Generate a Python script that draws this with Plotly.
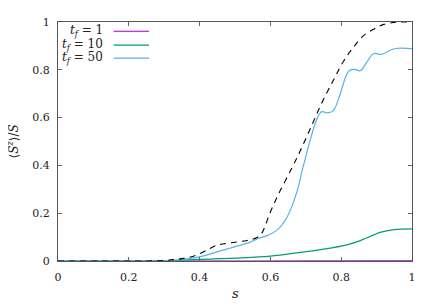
import plotly.graph_objects as go

# ---- data ----
s_ground = [0, 0.25, 0.30, 0.33, 0.355, 0.383, 0.42, 0.449, 0.487, 0.534, 0.562, 0.575, 0.586,
            0.60, 0.623, 0.661, 0.684, 0.713, 0.746, 0.779, 0.807, 0.835, 0.863, 0.892, 0.92,
            0.948, 0.97, 1.0]
v_ground = [0, 0, 0.002, 0.006, 0.011, 0.02, 0.045, 0.066, 0.076, 0.086, 0.098, 0.115, 0.15,
            0.205, 0.28, 0.39, 0.46, 0.555, 0.664, 0.759, 0.837, 0.895, 0.943, 0.97, 0.99,
            0.998, 1.0, 1.0]

s_tf1 = [0, 0.5, 1.0]
v_tf1 = [0, 0, 0.001]

s_tf10 = [0, 0.3, 0.4, 0.5, 0.6, 0.684, 0.76, 0.80, 0.84, 0.87, 0.91, 0.95, 1.0]
v_tf10 = [0, 0.001, 0.007, 0.012, 0.02, 0.036, 0.052, 0.062, 0.078, 0.095, 0.12, 0.131, 0.134]

s_tf50 = [0, 0.25, 0.308, 0.355, 0.402, 0.449, 0.496, 0.543, 0.567, 0.59, 0.618, 0.647, 0.675,
          0.69, 0.705, 0.72, 0.733, 0.745, 0.76, 0.777, 0.797, 0.812, 0.823, 0.838, 0.854,
          0.873, 0.892, 0.915, 0.939, 0.953, 1.0]
v_tf50 = [0, 0, 0.001, 0.007, 0.018, 0.038, 0.058, 0.079, 0.095, 0.106, 0.128, 0.183, 0.29,
          0.38, 0.465, 0.545, 0.6, 0.625, 0.62, 0.628, 0.698, 0.768, 0.797, 0.802, 0.796,
          0.834, 0.868, 0.865, 0.882, 0.889, 0.889]

tick_vals = [0, 0.2, 0.4, 0.6, 0.8, 1]
tick_text = ["0", "0.2", "0.4", "0.6", "0.8", "1"]

legend_labels = ["<i>t</i><sub><i>f</i></sub>&nbsp;= 1",
                 "<i>t</i><sub><i>f</i></sub>&nbsp;= 10",
                 "<i>t</i><sub><i>f</i></sub>&nbsp;= 50"]
colors = ["#9400d3", "#009e73", "#56b4e9"]

# ---- layout geometry (page has an 8px body margin) ----
OFF = 8
W, H = 436 - OFF, 305 - OFF
L, R, T, B = 57.7 - OFF, 24.3, 15.5 - OFF, 44
pw, ph = W - L - R, H - T - B

def px_x(x):
    return (x - OFF - L) / pw

def px_y(y):
    return 1 - (y - OFF - T) / ph

FONT = "DejaVu Serif"

fig = go.Figure()
series = [(s_tf1, v_tf1), (s_tf10, v_tf10), (s_tf50, v_tf50)]
for (sx, sy), c in zip(series, colors):
    fig.add_trace(go.Scatter(x=sx, y=sy, mode="lines",
                             line=dict(color=c, width=1.2, shape="spline", smoothing=1.0),
                             showlegend=False, hoverinfo="skip"))
fig.add_trace(go.Scatter(x=s_ground, y=v_ground, mode="lines",
                         line=dict(color="black", width=1.1, dash="6px,5px",
                                   shape="spline", smoothing=1.0),
                         showlegend=False, hoverinfo="skip"))

axis_common = dict(range=[0, 1], tickvals=tick_vals, ticktext=tick_text,
                   ticks="inside", ticklen=4, tickcolor="#666", showline=True,
                   linecolor="#555", linewidth=1, mirror="ticks", showgrid=False,
                   zeroline=False, tickfont=dict(family=FONT, size=11, color="#222"))

fig.update_layout(
    width=W, height=H,
    margin=dict(l=L, r=R, t=T, b=B, pad=0),
    paper_bgcolor="white", plot_bgcolor="white",
    font=dict(family=FONT),
    xaxis=dict(**axis_common, ticklabelstandoff=6),
    yaxis=dict(**axis_common, ticklabelstandoff=5),
    showlegend=False,
)

# axis titles
fig.add_annotation(x=px_x(13), y=px_y(138), xref="paper", yref="paper",
                   text="⟨<i>S</i><sup><i>z</i></sup>⟩/<i>S</i>", showarrow=False,
                   textangle=-90, xanchor="center", yanchor="middle",
                   font=dict(family=FONT, size=12, color="#222"))
fig.add_annotation(x=px_x(234.7), y=px_y(294), xref="paper", yref="paper",
                   text="<i>s</i>", showarrow=False, xanchor="center", yanchor="middle",
                   font=dict(family=FONT, size=13, color="#222"))

# gnuplot-style legend (text right, sample line after)
for lab, c, yy in zip(legend_labels, colors, [25, 39.3, 52.7]):
    fig.add_annotation(x=px_x(105), y=px_y(yy), xref="paper", yref="paper",
                       text=lab, showarrow=False, xanchor="right", yanchor="middle",
                       font=dict(family=FONT, size=12, color="#222"))
    fig.add_shape(type="line", xref="paper", yref="paper",
                  x0=px_x(113.3), x1=px_x(148.7), y0=px_y(yy), y1=px_y(yy),
                  line=dict(color=c, width=1.2))

fig.write_html("out.html")
